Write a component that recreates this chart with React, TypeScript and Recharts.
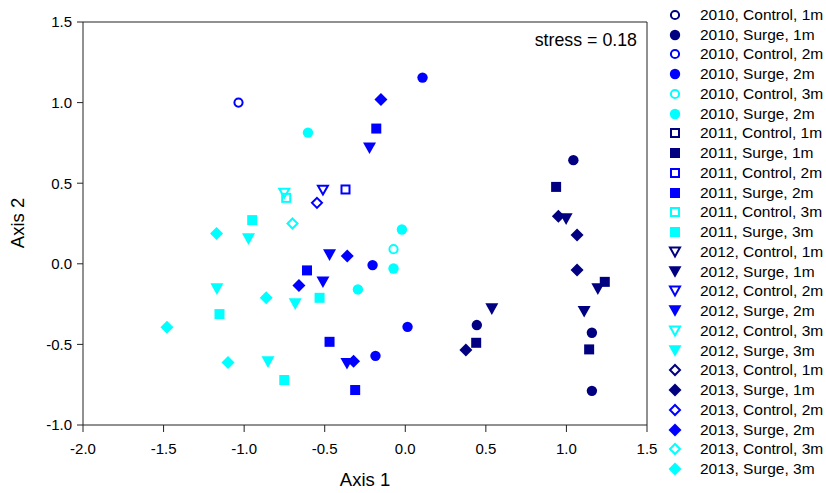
import React from 'react';
import { ScatterChart, Scatter, XAxis, YAxis, ReferenceLine } from 'recharts';

type Pt = { x: number; y: number };

// NMDS ordination scores
const c2010Control1m: Pt[] = [];
const c2010Surge1m: Pt[] = [
  { x: 1.043, y: 0.643 },
  { x: 0.444, y: -0.38 },
  { x: 1.158, y: -0.428 },
  { x: 1.158, y: -0.788 },
];
const c2010Control2m: Pt[] = [{ x: -1.035, y: 1.0 }];
const c2010Surge2m: Pt[] = [
  { x: 0.107, y: 1.155 },
  { x: -0.203, y: -0.008 },
  { x: 0.014, y: -0.391 },
  { x: -0.185, y: -0.571 },
];
const c2010Control3m: Pt[] = [{ x: -0.073, y: 0.091 }];
const c2010Surge3m: Pt[] = [
  { x: -0.604, y: 0.814 },
  { x: -0.021, y: 0.213 },
  { x: -0.073, y: -0.029 },
  { x: -0.294, y: -0.159 },
];
const c2011Control1m: Pt[] = [];
const c2011Surge1m: Pt[] = [
  { x: 0.936, y: 0.477 },
  { x: 1.238, y: -0.112 },
  { x: 0.44, y: -0.49 },
  { x: 1.141, y: -0.531 },
];
const c2011Control2m: Pt[] = [{ x: -0.371, y: 0.461 }];
const c2011Surge2m: Pt[] = [
  { x: -0.18, y: 0.839 },
  { x: -0.61, y: -0.041 },
  { x: -0.47, y: -0.484 },
  { x: -0.311, y: -0.783 },
];
const c2011Control3m: Pt[] = [{ x: -0.739, y: 0.409 }];
const c2011Surge3m: Pt[] = [
  { x: -0.95, y: 0.271 },
  { x: -0.532, y: -0.211 },
  { x: -1.153, y: -0.312 },
  { x: -0.751, y: -0.721 },
];
const c2012Control1m: Pt[] = [];
const c2012Surge1m: Pt[] = [
  { x: 0.998, y: 0.277 },
  { x: 1.195, y: -0.157 },
  { x: 0.537, y: -0.281 },
  { x: 1.11, y: -0.297 },
];
const c2012Control2m: Pt[] = [{ x: -0.511, y: 0.457 }];
const c2012Surge2m: Pt[] = [
  { x: -0.222, y: 0.717 },
  { x: -0.47, y: 0.054 },
  { x: -0.511, y: -0.114 },
  { x: -0.362, y: -0.62 },
];
const c2012Control3m: Pt[] = [{ x: -0.751, y: 0.438 }];
const c2012Surge3m: Pt[] = [
  { x: -0.973, y: 0.153 },
  { x: -1.169, y: -0.157 },
  { x: -0.683, y: -0.25 },
  { x: -0.852, y: -0.61 },
];
const c2013Control1m: Pt[] = [];
const c2013Surge1m: Pt[] = [
  { x: 0.95, y: 0.295 },
  { x: 1.066, y: 0.178 },
  { x: 1.066, y: -0.039 },
  { x: 0.376, y: -0.535 },
];
const c2013Control2m: Pt[] = [{ x: -0.548, y: 0.378 }];
const c2013Surge2m: Pt[] = [
  { x: -0.151, y: 1.019 },
  { x: -0.36, y: 0.049 },
  { x: -0.66, y: -0.134 },
  { x: -0.321, y: -0.604 },
];
const c2013Control3m: Pt[] = [{ x: -0.7, y: 0.25 }];
const c2013Surge3m: Pt[] = [
  { x: -1.171, y: 0.188 },
  { x: -0.863, y: -0.211 },
  { x: -1.479, y: -0.393 },
  { x: -1.1, y: -0.612 },
];

const xTicks = [-2, -1.5, -1, -0.5, 0, 0.5, 1, 1.5];
const yTicks = [-1, -0.5, 0, 0.5, 1, 1.5];
const stressLabel = 'stress = 0.18';

const NAVY = '#000080';
const BLUE = '#0000ff';
const CYAN = '#00ffff';

type Shape = 'circle' | 'square' | 'triangle' | 'diamond';

const series: { name: string; data: Pt[]; shape: Shape; color: string; filled: boolean }[] = [
  { name: '2010, Control, 1m', data: c2010Control1m, shape: 'circle', color: NAVY, filled: false },
  { name: '2010, Surge, 1m', data: c2010Surge1m, shape: 'circle', color: NAVY, filled: true },
  { name: '2010, Control, 2m', data: c2010Control2m, shape: 'circle', color: BLUE, filled: false },
  { name: '2010, Surge, 2m', data: c2010Surge2m, shape: 'circle', color: BLUE, filled: true },
  { name: '2010, Control, 3m', data: c2010Control3m, shape: 'circle', color: CYAN, filled: false },
  { name: '2010, Surge, 2m', data: c2010Surge3m, shape: 'circle', color: CYAN, filled: true },
  { name: '2011, Control, 1m', data: c2011Control1m, shape: 'square', color: NAVY, filled: false },
  { name: '2011, Surge, 1m', data: c2011Surge1m, shape: 'square', color: NAVY, filled: true },
  { name: '2011, Control, 2m', data: c2011Control2m, shape: 'square', color: BLUE, filled: false },
  { name: '2011, Surge, 2m', data: c2011Surge2m, shape: 'square', color: BLUE, filled: true },
  { name: '2011, Control, 3m', data: c2011Control3m, shape: 'square', color: CYAN, filled: false },
  { name: '2011, Surge, 3m', data: c2011Surge3m, shape: 'square', color: CYAN, filled: true },
  { name: '2012, Control, 1m', data: c2012Control1m, shape: 'triangle', color: NAVY, filled: false },
  { name: '2012, Surge, 1m', data: c2012Surge1m, shape: 'triangle', color: NAVY, filled: true },
  { name: '2012, Control, 2m', data: c2012Control2m, shape: 'triangle', color: BLUE, filled: false },
  { name: '2012, Surge, 2m', data: c2012Surge2m, shape: 'triangle', color: BLUE, filled: true },
  { name: '2012, Control, 3m', data: c2012Control3m, shape: 'triangle', color: CYAN, filled: false },
  { name: '2012, Surge, 3m', data: c2012Surge3m, shape: 'triangle', color: CYAN, filled: true },
  { name: '2013, Control, 1m', data: c2013Control1m, shape: 'diamond', color: NAVY, filled: false },
  { name: '2013, Surge, 1m', data: c2013Surge1m, shape: 'diamond', color: NAVY, filled: true },
  { name: '2013, Control, 2m', data: c2013Control2m, shape: 'diamond', color: BLUE, filled: false },
  { name: '2013, Surge, 2m', data: c2013Surge2m, shape: 'diamond', color: BLUE, filled: true },
  { name: '2013, Control, 3m', data: c2013Control3m, shape: 'diamond', color: CYAN, filled: false },
  { name: '2013, Surge, 3m', data: c2013Surge3m, shape: 'diamond', color: CYAN, filled: true },
];

const FONT = '"Liberation Sans", Arial, sans-serif';

function Marker({ cx, cy, shape, color, filled }: { cx: number; cy: number; shape: Shape; color: string; filled: boolean }) {
  const fill = filled ? color : 'none';
  const stroke = filled ? 'none' : color;
  const sw = filled ? 0 : 2;
  if (shape === 'circle') {
    return <circle cx={cx} cy={cy} r={filled ? 5.2 : 4.1} fill={fill} stroke={stroke} strokeWidth={sw} />;
  }
  if (shape === 'square') {
    const s = filled ? 10 : 8;
    return <rect x={cx - s / 2} y={cy - s / 2} width={s} height={s} fill={fill} stroke={stroke} strokeWidth={sw} />;
  }
  if (shape === 'triangle') {
    const w = filled ? 6.5 : 5;
    const h = filled ? 5.8 : 4.4;
    const pts = `${cx - w},${cy - h} ${cx + w},${cy - h} ${cx},${cy + h}`;
    return <polygon points={pts} fill={fill} stroke={stroke} strokeWidth={sw} strokeLinejoin="miter" />;
  }
  const d = filled ? 6.5 : 5;
  const pts = `${cx},${cy - d} ${cx + d},${cy} ${cx},${cy + d} ${cx - d},${cy}`;
  return <polygon points={pts} fill={fill} stroke={stroke} strokeWidth={sw} />;
}

export default function App() {
  return (
    <div style={{ position: 'fixed', left: 0, top: 0, width: 826, height: 493, background: '#fff', fontFamily: FONT }}>
      <ScatterChart width={660} height={493} margin={{ top: 22, right: 13, bottom: 38, left: 23 }}>
        <XAxis
          type="number"
          dataKey="x"
          domain={[-2, 1.5]}
          ticks={xTicks}
          tickFormatter={(v: number) => v.toFixed(1)}
          tick={{ fontSize: 15, fill: '#000', fontFamily: FONT }}
          tickSize={7}
          tickMargin={11}
          stroke="#222"
          height={30}
          allowDataOverflow
          label={{
            content: () => (
              <text x={365} y={486} textAnchor="middle" fontSize={18.5} fontFamily={FONT} fill="#000">
                Axis 1
              </text>
            ),
          }}
        />
        <YAxis
          type="number"
          dataKey="y"
          domain={[-1, 1.5]}
          ticks={yTicks}
          tickFormatter={(v: number) => v.toFixed(1)}
          tick={{ fontSize: 15, fill: '#000', fontFamily: FONT }}
          tickSize={6}
          tickMargin={5}
          stroke="#222"
          width={60}
          allowDataOverflow
          label={{
            content: () => (
              <text x={24} y={223} textAnchor="middle" fontSize={18.5} fontFamily={FONT} fill="#000" transform="rotate(-90 24 223)">
                Axis 2
              </text>
            ),
          }}
        />
        <ReferenceLine y={1.5} stroke="#222" />
        <ReferenceLine x={1.5} stroke="#222" />
        {series.map((s, i) => (
          <Scatter
            key={i}
            name={s.name}
            data={s.data}
            isAnimationActive={false}
            shape={(p: any) => <Marker cx={p.cx} cy={p.cy} shape={s.shape} color={s.color} filled={s.filled} />}
          />
        ))}
      </ScatterChart>
      <div style={{ position: 'absolute', right: 189, top: 29, fontSize: 17.8, lineHeight: '22px', color: '#000' }}>{stressLabel}</div>
      <div style={{ position: 'absolute', left: 666, top: 5 }}>
        {series.map((s, i) => (
          <div key={i} style={{ height: 19.75, display: 'flex', alignItems: 'center', fontSize: 15.5, color: '#000', whiteSpace: 'nowrap' }}>
            <svg width={18} height={16} style={{ marginRight: 16, flex: 'none' }}>
              <Marker cx={9} cy={8} shape={s.shape} color={s.color} filled={s.filled} />
            </svg>
            <span>{s.name}</span>
          </div>
        ))}
      </div>
    </div>
  );
}
